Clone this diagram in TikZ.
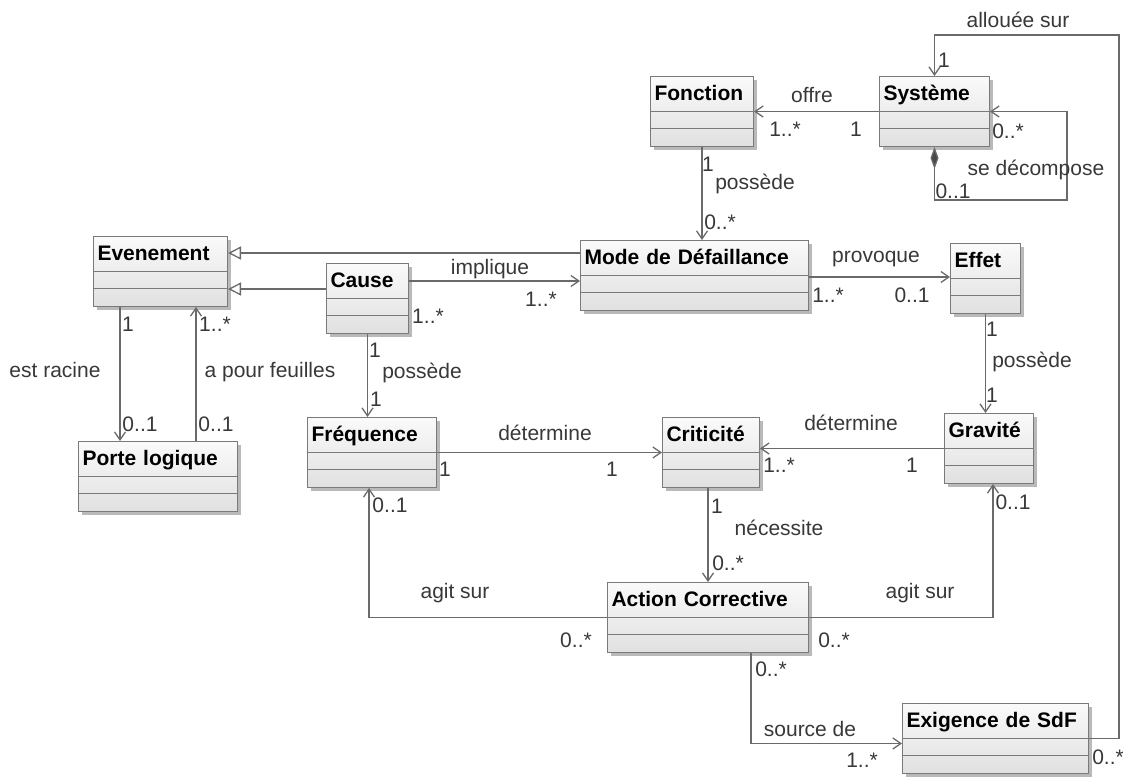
\documentclass[tikz,border=0pt]{standalone}
\usepackage{fontspec}
\setmainfont{Liberation Sans}
\usetikzlibrary{arrows.meta,shadows}

\definecolor{boxborder}{HTML}{7A7A7A}
\definecolor{linkgray}{HTML}{6A6A6A}
\definecolor{labelgray}{HTML}{383838}

\begin{document}
\begin{tikzpicture}[
    x=1pt, y=-1pt,
    umlclass/.style={draw=boxborder, line width=1pt, top color=gray!4, bottom color=gray!24,
      drop shadow={shadow xshift=3pt, shadow yshift=-3pt, fill=gray!55, opacity=1},
      anchor=north west, align=left, inner xsep=4pt, inner ysep=0pt,
      text height=24pt, text depth=46pt, text width=#1,
      font=\fontsize{21}{24}\selectfont\bfseries,
      path picture={
        \draw[boxborder, line width=1pt]
          ([yshift=-35pt]path picture bounding box.north west) -- ([yshift=-35pt]path picture bounding box.north east)
          ([yshift=-52pt]path picture bounding box.north west) -- ([yshift=-52pt]path picture bounding box.north east);
      }},
    lbl/.style={text=labelgray, inner sep=0pt, font=\fontsize{21}{24}\selectfont},
    link/.style={draw=linkgray, line width=1.3pt, -{Straight Barb[length=8pt,width=11pt]}},
    gen/.style={draw=linkgray, line width=1.3pt, -{Triangle[open,length=13pt,width=13pt,fill=white]}},
    comp/.style={draw=linkgray, line width=1.3pt,
      {Diamond[length=22pt,width=8pt,fill=linkgray!70!black]}-{Straight Barb[length=8pt,width=11pt]}}
  ]
    \useasboundingbox (0,0) rectangle (1123,776);

    % classes
    \node[umlclass=95pt] (fonction) at (650,76) {Fonction};
    \node[umlclass=102pt] (systeme) at (879,76) {Système};
    \node[umlclass=126pt] (evenement) at (93,236) {Evenement};
    \node[umlclass=74pt] (cause) at (326,263) {Cause};
    \node[umlclass=220pt] (mode) at (580,240) {Mode de Défaillance};
    \node[umlclass=62pt] (effet) at (950,243) {Effet};
    \node[umlclass=151pt] (porte) at (78,441) {Porte logique};
    \node[umlclass=121pt] (frequence) at (307,417) {Fréquence};
    \node[umlclass=89pt] (criticite) at (662,417) {Criticité};
    \node[umlclass=81pt] (gravite) at (944,413) {Gravité};
    \node[umlclass=193pt] (action) at (607,582) {Action Corrective};
    \node[umlclass=178pt] (exigence) at (902,703) {Exigence de SdF};

    % associations
    \draw[link] (systeme.west) -- (fonction.east);
    \draw[link] (fonction.south) -- (fonction.south |- mode.north);
    \draw[comp] (systeme.south) -- ++(0,53) -| ([xshift=77pt]systeme.east) -- (systeme.east);
    \draw[link] (exigence.east) -- ++(30,0) |- ([yshift=41pt]systeme.north) -- (systeme.north);
    \draw[gen] ([yshift=-13pt]mode.north west) -- ([yshift=-13pt]mode.north west -| evenement.east);
    \draw[gen] ([yshift=-26pt]cause.north west) -- ([yshift=-26pt]cause.north west -| evenement.east);
    \draw[link] ([yshift=-18pt]cause.north east) -- ([yshift=-18pt]cause.north east -| mode.west);
    \draw[link] ([xshift=27pt]evenement.south west) -- ([xshift=27pt]evenement.south west |- porte.north);
    \draw[link] ([xshift=118pt]porte.north west) -- ([xshift=118pt]porte.north west |- evenement.south);
    \draw[link] (cause.south) -- (cause.south |- frequence.north);
    \draw[link] ([yshift=-37pt]mode.north east) -- ([yshift=-37pt]mode.north east -| effet.west);
    \draw[link] (effet.south) -- (effet.south |- gravite.north);
    \draw[link] (gravite.west) -- (gravite.west -| criticite.east);
    \draw[link] (frequence.east) -- (frequence.east -| criticite.west);
    \draw[link] ([xshift=46pt]criticite.south west) -- ([xshift=46pt]criticite.south west |- action.north);
    \draw[link] (action.west) -| ([xshift=62pt]frequence.south west);
    \draw[link] (action.east) -| ([xshift=49pt]gravite.south west);
    \draw[link] ([xshift=144pt]action.south west) |- ([yshift=-5pt]exigence.west);

    % roles and multiplicities
    \node[lbl] (r-offre) at (812,95) {offre};
    \node[lbl] (m-offre-s) at (856,129) {1};
    \node[lbl] (m-offre-f) at (785,129) {1..*};
    \node[lbl] (m-poss1-f) at (708,164) {1};
    \node[lbl] (r-poss1) at (755,184) {possède};
    \node[lbl] (m-poss1-m) at (720,222) {0..*};
    \node[lbl] (m-comp-a) at (953,191) {0..1};
    \node[lbl] (r-comp) at (1036,170) {se décompose};
    \node[lbl] (m-comp-b) at (1008,131) {0..*};
    \node[lbl] (r-alloc) at (1018,20) {allouée sur};
    \node[lbl] (m-alloc-s) at (944,60) {1};
    \node[lbl] (m-alloc-e) at (1108,757) {0..*};
    \node[lbl] (r-impl) at (490,269) {implique};
    \node[lbl] (m-impl-m) at (541,299) {1..*};
    \node[lbl] (m-impl-c) at (428,316) {1..*};
    \node[lbl] (m-racine-e) at (128,324) {1};
    \node[lbl] (r-racine) at (55,370) {est racine};
    \node[lbl] (m-racine-p) at (140,424) {0..1};
    \node[lbl] (m-feuil-e) at (215,324) {1..*};
    \node[lbl] (r-feuil) at (270,372) {a pour feuilles};
    \node[lbl] (m-feuil-p) at (216,424) {0..1};
    \node[lbl] (m-poss2-c) at (375,350) {1};
    \node[lbl] (r-poss2) at (422,373) {possède};
    \node[lbl] (m-poss2-f) at (376,399) {1};
    \node[lbl] (r-prov) at (876,259) {provoque};
    \node[lbl] (m-prov-m) at (828,295) {1..*};
    \node[lbl] (m-prov-e) at (912,295) {0..1};
    \node[lbl] (m-poss3-e) at (992,329) {1};
    \node[lbl] (r-poss3) at (1032,362) {possède};
    \node[lbl] (m-poss3-g) at (992,395) {1};
    \node[lbl] (r-det1) at (851,423) {détermine};
    \node[lbl] (m-det1-c) at (779,465) {1..*};
    \node[lbl] (m-det1-g) at (912,465) {1};
    \node[lbl] (r-det2) at (545,433) {détermine};
    \node[lbl] (m-det2-f) at (445,469) {1};
    \node[lbl] (m-det2-c) at (612,469) {1};
    \node[lbl] (m-nec-c) at (717,506) {1};
    \node[lbl] (r-nec) at (779,528) {nécessite};
    \node[lbl] (m-nec-a) at (728,563) {0..*};
    \node[lbl] (r-agit1) at (455,593) {agit sur};
    \node[lbl] (m-agit1-a) at (576,640) {0..*};
    \node[lbl] (m-agit1-f) at (390,505) {0..1};
    \node[lbl] (r-agit2) at (920,593) {agit sur};
    \node[lbl] (m-agit2-a) at (834,640) {0..*};
    \node[lbl] (m-agit2-g) at (1013,502) {0..1};
    \node[lbl] (m-src-a) at (771,669) {0..*};
    \node[lbl] (r-src) at (810,729) {source de};
    \node[lbl] (m-src-e) at (862,760) {1..*};
  \end{tikzpicture}
\end{document}
